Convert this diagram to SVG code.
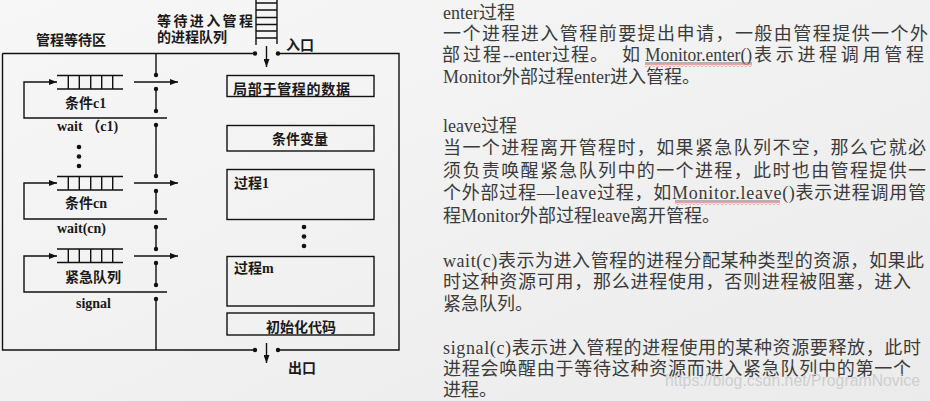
<svg xmlns="http://www.w3.org/2000/svg" width="930" height="401" viewBox="0 0 930 401">
<defs>
<linearGradient id="bg" x1="0" y1="0" x2="1" y2="1">
<stop offset="0" stop-color="#f7f7f7"/>
<stop offset="1" stop-color="#ebebeb"/>
</linearGradient>
<marker id="ah" viewBox="0 0 8 6" refX="8" refY="3" markerWidth="8" markerHeight="6" markerUnits="userSpaceOnUse" orient="auto">
<path d="M0,0 L8,3 L0,6 z" fill="#111"/>
</marker>
<pattern id="sq" x="0" y="0" width="4" height="3" patternUnits="userSpaceOnUse">
<polyline points="0,2.5 2,0.5 4,2.5" fill="none" stroke="#e03030" stroke-width="0.8"/>
</pattern>
</defs>
<style>
.ln{stroke:#111;stroke-width:1.4;fill:none}
.bx{stroke:#111;stroke-width:1.4;fill:none}
.dot{fill:#111}
.lb{font-family:"Liberation Serif","Noto Sans CJK SC",serif;font-weight:bold;font-size:14px;fill:#1a1a1a}
.tx{font-family:"Liberation Serif","Noto Sans CJK SC",serif;font-size:18px;fill:#3b3b3b}
.ul{stroke:#555;stroke-width:0.8}
</style>
<rect x="0" y="0" width="930" height="401" fill="url(#bg)"/>

<g id="connectors">
<path class="ln" d="M2.5,53.5 H255 M278,53.5 H399 V350 H278 M255,350 H2.5 V53.5"/>
<path class="ln" d="M266.5,46 V67" marker-end="url(#ah)"/>
<path class="ln" d="M266.5,343 V363" marker-end="url(#ah)"/>
<path class="ln" d="M156,53.5 V75 M156,89 V111 M156,125 V176 M156,191 V212 M156,227 V249 M156,263 V285 M156,299 V350"/>
<path class="ln" d="M167,118 H24 V82 H57" marker-end="url(#ah)"/>
<path class="ln" d="M167,219 H24 V183 H57" marker-end="url(#ah)"/>
<path class="ln" d="M167,292 H24 V256 H57" marker-end="url(#ah)"/>
<path class="ln" d="M134,82 H178" marker-end="url(#ah)"/>
<path class="ln" d="M134,183 H178" marker-end="url(#ah)"/>
<path class="ln" d="M134,256 H178" marker-end="url(#ah)"/>
<g class="dot">
<circle cx="255" cy="53.5" r="2.2"/><circle cx="278" cy="53.5" r="2.2"/>
<circle cx="255" cy="350" r="2.2"/><circle cx="278" cy="350" r="2.2"/>
<circle cx="156" cy="75" r="2.2"/><circle cx="156" cy="89" r="2.2"/>
<circle cx="156" cy="111" r="2.2"/><circle cx="156" cy="125" r="2.2"/>
<circle cx="156" cy="176" r="2.2"/><circle cx="156" cy="191" r="2.2"/>
<circle cx="156" cy="212" r="2.2"/><circle cx="156" cy="227" r="2.2"/>
<circle cx="156" cy="249" r="2.2"/><circle cx="156" cy="263" r="2.2"/>
<circle cx="156" cy="285" r="2.2"/><circle cx="156" cy="299" r="2.2"/>
</g>
</g>

<g id="entry-queue">
<path class="ln" d="M256,0 V45 M277,0 V44 M256,3 H277 M256,10 H277 M256,17.5 H277 M256,24.5 H277 M256,31 H277 M256,38 H277"/>
<text class="lb" x="157" y="26" textLength="96" lengthAdjust="spacing">等待进入管程</text>
<text class="lb" x="157" y="42">的进程队列</text>
<text class="lb" x="286" y="50">入口</text>
</g>

<g id="wait-area">
<text class="lb" x="36" y="45">管程等待区</text>
</g>

<g id="queue-c1">
<path class="ln" d="M57,75.5 H123 M57,89 H123 M68.3,75.5 V89 M79.3,75.5 V89 M90.7,75.5 V89 M101.7,75.5 V89 M112.7,75.5 V89"/>
<text class="lb" x="65" y="108">条件c1</text>
<text class="lb" x="57" y="131">wait （c1)</text>
</g>

<g id="ellipsis-left" class="dot">
<circle cx="79" cy="147" r="2.3"/><circle cx="79" cy="156.5" r="2.3"/><circle cx="79" cy="166" r="2.3"/>
</g>

<g id="queue-cn">
<path class="ln" d="M57,176.5 H123 M57,190 H123 M68.3,176.5 V190 M79.3,176.5 V190 M90.7,176.5 V190 M101.7,176.5 V190 M112.7,176.5 V190"/>
<text class="lb" x="65" y="208">条件cn</text>
<text class="lb" x="57" y="233">wait(cn)</text>
</g>

<g id="queue-urgent">
<path class="ln" d="M57,249 H123 M57,262.5 H123 M68.3,249 V262.5 M79.3,249 V262.5 M90.7,249 V262.5 M101.7,249 V262.5 M112.7,249 V262.5"/>
<text class="lb" x="65" y="282">紧急队列</text>
<text class="lb" x="76" y="308">signal</text>
</g>

<g id="box-data">
<rect class="bx" x="227" y="75.5" width="147" height="21"/>
<text class="lb" x="233" y="94" textLength="117" lengthAdjust="spacing">局部于管程的数据</text>
</g>
<g id="box-cond">
<rect class="bx" x="227" y="125.5" width="147" height="25.5"/>
<text class="lb" x="300" y="144" text-anchor="middle">条件变量</text>
</g>
<g id="box-proc1">
<rect class="bx" x="227" y="169.5" width="147" height="50"/>
<text class="lb" x="234" y="188">过程1</text>
</g>
<g id="ellipsis-right" class="dot">
<circle cx="304" cy="227" r="2.3"/><circle cx="304" cy="236.5" r="2.3"/><circle cx="304" cy="246" r="2.3"/>
</g>
<g id="box-procm">
<rect class="bx" x="227" y="256.5" width="147" height="49.5"/>
<text class="lb" x="234" y="273">过程m</text>
</g>
<g id="box-init">
<rect class="bx" x="227" y="313" width="147" height="22"/>
<text class="lb" x="301" y="332" text-anchor="middle">初始化代码</text>
</g>
<g id="exit">
<text class="lb" x="288" y="373">出口</text>
</g>

<g id="notes">
<text class="tx" x="443" y="19">enter过程</text>
<text class="tx" x="443" y="39.5" textLength="485" lengthAdjust="spacing">一个进程进入管程前要提出申请，一般由管程提供一个外</text>
<text class="tx" y="61" x="442 463 483">部过程</text>
<text class="tx" x="503" y="61">--enter</text>
<text class="tx" y="61" x="552 571 590">过程。</text>
<text class="tx" x="622" y="61">如</text>
<text class="tx" x="645" y="61" textLength="107" lengthAdjust="spacingAndGlyphs">Monitor.enter()</text>
<text class="tx" y="61" x="754 775.7 797.4 819.1 840.8 862.5 884.2 905.9">表示进程调用管程</text>
<line class="ul" x1="645" y1="63" x2="752" y2="63"/>
<rect x="645" y="64" width="107" height="3" fill="url(#sq)"/>
<text class="tx" x="443" y="82.5">Monitor外部过程enter进入管程。</text>

<text class="tx" x="443" y="132">leave过程</text>
<text class="tx" x="443" y="154" textLength="483" lengthAdjust="spacing">当一个进程离开管程时，如果紧急队列不空，那么它就必</text>
<text class="tx" x="443" y="177" textLength="483" lengthAdjust="spacing">须负责唤醒紧急队列中的一个进程，此时也由管程提供一</text>
<text class="tx" x="443" y="199" textLength="483" lengthAdjust="spacing">个外部过程—leave过程，如Monitor.leave()表示进程调用管</text>
<line class="ul" x1="675" y1="201" x2="780" y2="201"/>
<rect x="675" y="202" width="105" height="3" fill="url(#sq)"/>
<text class="tx" x="443" y="222">程Monitor外部过程leave离开管程。</text>

<text class="tx" x="443" y="267" textLength="481" lengthAdjust="spacing">wait(c)表示为进入管程的进程分配某种类型的资源，如果此</text>
<text class="tx" x="443" y="288" textLength="468" lengthAdjust="spacing">时这种资源可用，那么进程使用，否则进程被阻塞，进入</text>
<text class="tx" x="443" y="310">紧急队列。</text>

<text class="tx" x="443" y="354" textLength="478" lengthAdjust="spacing">signal(c)表示进入管程的进程使用的某种资源要释放，此时</text>
<text class="tx" x="443" y="375" textLength="468" lengthAdjust="spacing">进程会唤醒由于等待这种资源而进入紧急队列中的第一个</text>
<text class="tx" x="443" y="396">进程。</text>
</g>

<g id="watermark">
<text x="665" y="386" font-family="Liberation Sans, Arial, sans-serif" font-size="16" fill="#cfcfcf" textLength="255" lengthAdjust="spacingAndGlyphs">https://blog.csdn.net/ProgramNovice</text>
</g>
</svg>
